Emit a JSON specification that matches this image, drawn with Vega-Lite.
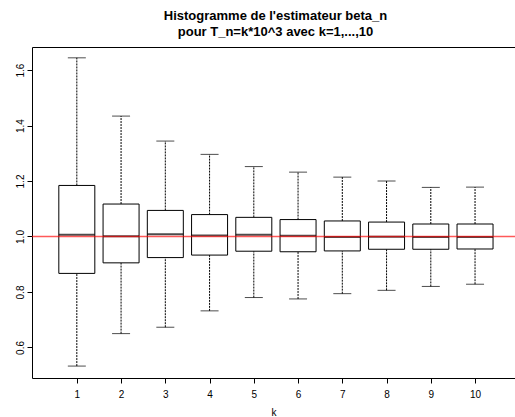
{
  "$schema": "https://vega.github.io/schema/vega-lite/v6.json",
  "width": 483,
  "height": 331,
  "autosize": {"type": "none"},
  "padding": {"left": 32, "top": 47, "right": 0, "bottom": 39},
  "background": "white",
  "config": {
    "font": "Liberation Sans",
    "view": {"stroke": "black", "strokeWidth": 1},
    "axis": {"grid": false, "domain": false, "tickColor": "black", "labelColor": "black", "labelFont": "Liberation Sans", "labelFontSize": 10, "titleFont": "Liberation Sans", "titleFontWeight": "normal", "titleFontSize": 10, "titleColor": "black"}
  },
  "title": {
    "text": ["Histogramme de l'estimateur beta_n", "pour T_n=k*10^3 avec k=1,...,10"],
    "font": "Liberation Sans",
    "fontSize": 13,
    "fontWeight": "bold",
    "color": "black",
    "anchor": "middle",
    "dx": 2,
    "offset": 8,
    "lineHeight": 16
  },
  "data": {
    "values": [
      {"k": 1, "low": 0.533, "q1": 0.867, "med": 1.006, "q3": 1.184, "high": 1.644},
      {"k": 2, "low": 0.650, "q1": 0.905, "med": 1.001, "q3": 1.117, "high": 1.434},
      {"k": 3, "low": 0.673, "q1": 0.924, "med": 1.008, "q3": 1.094, "high": 1.344},
      {"k": 4, "low": 0.732, "q1": 0.933, "med": 1.004, "q3": 1.079, "high": 1.296},
      {"k": 5, "low": 0.780, "q1": 0.947, "med": 1.006, "q3": 1.069, "high": 1.252},
      {"k": 6, "low": 0.775, "q1": 0.945, "med": 1.003, "q3": 1.061, "high": 1.232},
      {"k": 7, "low": 0.794, "q1": 0.948, "med": 0.998, "q3": 1.056, "high": 1.214},
      {"k": 8, "low": 0.806, "q1": 0.954, "med": 0.999, "q3": 1.052, "high": 1.200},
      {"k": 9, "low": 0.820, "q1": 0.954, "med": 0.998, "q3": 1.045, "high": 1.177},
      {"k": 10, "low": 0.828, "q1": 0.955, "med": 0.998, "q3": 1.045, "high": 1.178}
    ]
  },
  "encoding": {
    "x": {
      "field": "k", "type": "quantitative",
      "scale": {"domain": [0.1, 10.79], "nice": false, "zero": false},
      "axis": {"values": [1,2,3,4,5,6,7,8,9,10], "title": "k", "titleColor": "black", "tickSize": 5, "labelPadding": 6, "titlePadding": 8, "labelFlush": false}
    }
  },
  "layer": [
    {
      "mark": {"type": "rule", "stroke": "black", "strokeWidth": 1, "strokeDash": [2, 1]},
      "encoding": {
        "y": {"field": "q3", "type": "quantitative", "scale": {"domain": [0.49, 1.683], "nice": false, "zero": false},
          "axis": {"values": [0.6, 0.8, 1.0, 1.2, 1.4, 1.6], "format": ".1f", "title": null, "tickSize": 5, "labelAngle": 270, "labelAlign": "center", "labelBaseline": "bottom", "labelPadding": 2}},
        "y2": {"field": "high"}
      }
    },
    {
      "mark": {"type": "rule", "stroke": "black", "strokeWidth": 1, "strokeDash": [2, 1]},
      "encoding": {
        "y": {"field": "low", "type": "quantitative"},
        "y2": {"field": "q1"}
      }
    },
    {
      "mark": {"type": "tick", "orient": "horizontal", "size": 18, "thickness": 1, "color": "black"},
      "encoding": {"y": {"field": "high", "type": "quantitative"}}
    },
    {
      "mark": {"type": "tick", "orient": "horizontal", "size": 18, "thickness": 1, "color": "black"},
      "encoding": {"y": {"field": "low", "type": "quantitative"}}
    },
    {
      "mark": {"type": "bar", "size": 36, "fill": "white", "stroke": "black", "strokeWidth": 1},
      "encoding": {
        "y": {"field": "q1", "type": "quantitative"},
        "y2": {"field": "q3"}
      }
    },
    {
      "mark": {"type": "tick", "orient": "horizontal", "size": 36, "thickness": 2, "color": "black"},
      "encoding": {"y": {"field": "med", "type": "quantitative"}}
    },
    {
      "data": {"values": [{"ref": 1}]},
      "mark": {"type": "rule", "stroke": "red", "strokeWidth": 1.5, "opacity": 0.65},
      "encoding": {"x": null, "y": {"field": "ref", "type": "quantitative"}}
    }
  ]
}
